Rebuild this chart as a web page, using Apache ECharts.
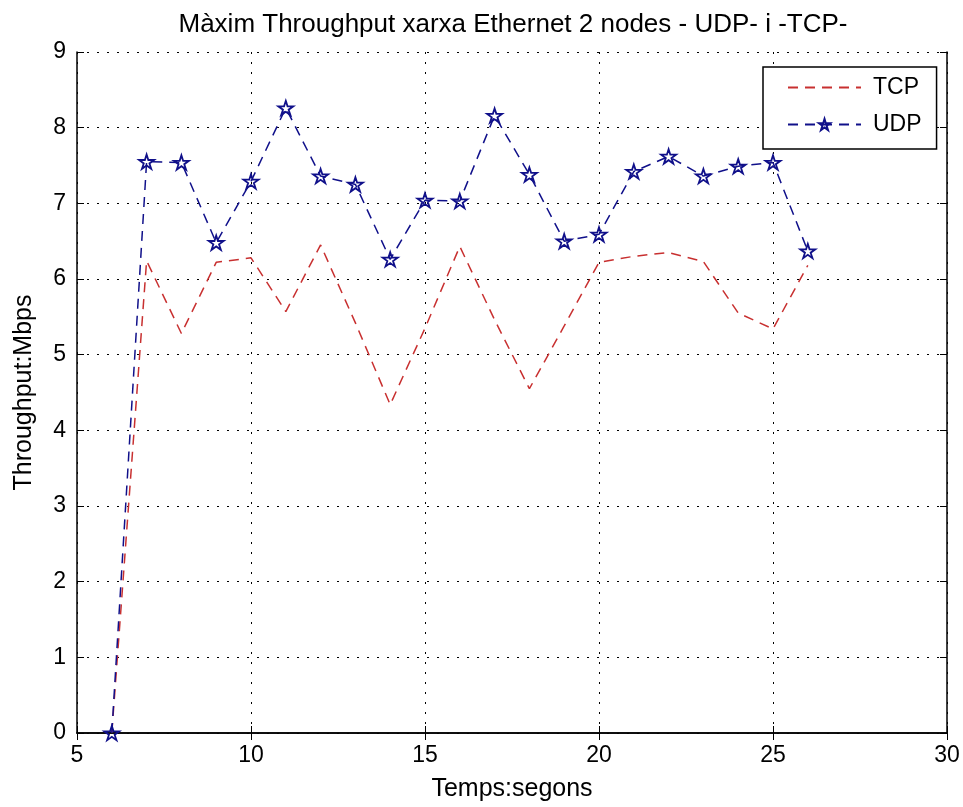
<!DOCTYPE html>
<html>
<head>
<meta charset="utf-8">
<script src="https://cdn.jsdelivr.net/npm/echarts@6/dist/echarts.min.js"></script>
<style>
html,body{margin:0;padding:0;background:#fff;}
#main{width:963px;height:807px;}
</style>
</head>
<body>
<div id="main"></div>
<script>
var temps = [6, 7, 8, 9, 10, 11, 12, 13, 14, 15, 16, 17, 18, 19, 20, 21, 22, 23, 24, 25, 26];
var tcp = [0, 6.24, 5.28, 6.22, 6.28, 5.57, 6.45, 5.42, 4.34, 5.35, 6.43, 5.46, 4.55, 5.38, 6.22, 6.30, 6.35, 6.23, 5.55, 5.34, 6.18];
var udp = [0, 7.55, 7.54, 6.48, 7.29, 8.26, 7.36, 7.25, 6.26, 7.04, 7.03, 8.16, 7.38, 6.50, 6.59, 7.42, 7.62, 7.36, 7.49, 7.54, 6.37];

var font = "'Liberation Sans', Arial, sans-serif";
var star = 'path://M0,-100 L22,-31 L95,-31 L36,12 L59,81 L0,38 L-59,81 L-36,12 L-95,-31 L-22,-31 Z';

function pares(xs, ys){
	var out = [];
	for (var i = 0; i < xs.length; i++) out.push([xs[i], ys[i]]);
	return out;
}

var myChart = echarts.init(document.getElementById('main'));

// eixos secundaris només per a les marques de dalt i dreta
var option = {
	backgroundColor: '#fff',
	animation: false,
	title: {
		text: 'Màxim Throughput xarxa Ethernet 2 nodes - UDP- i -TCP-',
		left: 508, top: 7, textAlign: 'center',
		textStyle: {fontFamily: font, fontSize: 26, fontWeight: 'normal', color: '#000'}
	},
	legend: {
		orient: 'vertical',
		left: 763, top: 67,
		padding: [9, 15, 13, 24],
		itemGap: 14,
		itemWidth: 73, itemHeight: 14,
		backgroundColor: '#fff',
		borderColor: '#000', borderWidth: 1.5,
		textStyle: {fontFamily: font, fontSize: 23, color: '#000', padding: [0, 0, 0, 7]},
		data: [{name: 'TCP', itemStyle: {opacity: 0}}, 'UDP']
	},
	grid: {left: 77, right: 16, top: 52, bottom: 71},
	xAxis: [{
		type: 'value', min: 5, max: 30, interval: 5,
		name: 'Temps:segons', nameLocation: 'middle', nameGap: 44,
		nameTextStyle: {fontFamily: font, fontSize: 25, color: '#000'},
		axisLine: {lineStyle: {color: '#000', width: 1.5}},
		axisTick: {inside: true, length: 7, lineStyle: {color: '#000'}},
		axisLabel: {fontFamily: font, fontSize: 23, color: '#000', margin: 11},
		splitLine: {show: true, lineStyle: {color: '#000', width: 1, type: [2, 8]}}
	}, {
		type: 'value', min: 5, max: 30, interval: 5, position: 'top',
		axisLine: {lineStyle: {color: '#000', width: 1.5}},
		axisTick: {inside: true, length: 7, lineStyle: {color: '#000'}},
		axisLabel: {show: false}, splitLine: {show: false}
	}],
	yAxis: [{
		type: 'value', min: 0, max: 9, interval: 1,
		name: 'Throughput:Mbps', nameLocation: 'middle', nameGap: 40,
		nameTextStyle: {fontFamily: font, fontSize: 25, color: '#000'},
		axisLine: {show: true, lineStyle: {color: '#000', width: 1.5}},
		axisTick: {show: true, inside: true, length: 7, lineStyle: {color: '#000'}},
		axisLabel: {fontFamily: font, fontSize: 23, color: '#000', margin: 11},
		splitLine: {show: true, lineStyle: {color: '#000', width: 1, type: [2, 8]}}
	}, {
		type: 'value', min: 0, max: 9, interval: 1, position: 'right',
		axisLine: {show: true, lineStyle: {color: '#000', width: 1.5}},
		axisTick: {show: true, inside: true, length: 7, lineStyle: {color: '#000'}},
		axisLabel: {show: false}, splitLine: {show: false}
	}],
	series: [{
		name: 'TCP',
		type: 'line',
		data: pares(temps, tcp),
		symbol: 'none',
		itemStyle: {color: '#c83030'},
		lineStyle: {color: '#c83030', width: 1.5, type: [10, 7]},
		z: 3
	}, {
		name: 'UDP',
		type: 'line',
		data: pares(temps, udp),
		symbol: star,
		symbolSize: 15,
		symbolKeepAspect: true,
		itemStyle: {color: 'rgba(255,255,255,0)', borderColor: '#10108a', borderWidth: 1.8},
		lineStyle: {color: '#10108a', width: 1.5, type: [10, 7]},
		z: 4
	}]
};

myChart.setOption(option);
</script>
</body>
</html>
